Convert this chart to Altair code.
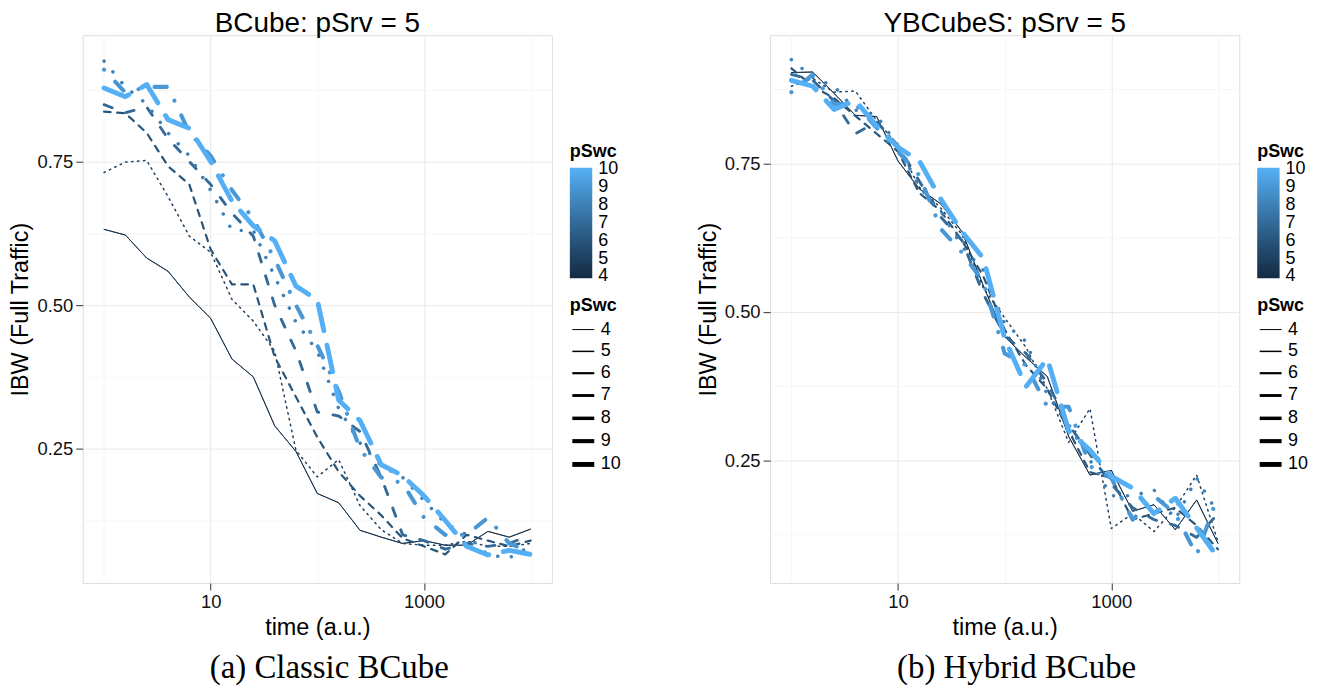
import altair as alt
import pandas as pd

# ---------------- data ----------------
TIME = [1, 1.585, 2.512, 3.981, 6.31, 10, 15.85, 25.12, 39.81, 63.1, 100,
        158.5, 251.2, 398.1, 631, 1000, 1585, 2512, 3981, 6310, 10000]
PSWC = [4, 5, 6, 7, 8, 9, 10]

BCUBE = {
    4: [0.632, 0.622, 0.582, 0.559, 0.514, 0.477, 0.406, 0.375, 0.290, 0.245, 0.172,
        0.156, 0.108, 0.096, 0.085, 0.090, 0.082, 0.082, 0.106, 0.096, 0.110],
    5: [0.731, 0.749, 0.752, 0.689, 0.620, 0.592, 0.510, 0.472, 0.420, 0.247, 0.201,
        0.231, 0.151, 0.109, 0.085, 0.082, 0.082, 0.089, 0.080, 0.080, 0.085],
    6: [0.837, 0.834, 0.800, 0.742, 0.710, 0.597, 0.536, 0.536, 0.410, 0.340, 0.270,
        0.210, 0.168, 0.134, 0.094, 0.080, 0.066, 0.100, 0.090, 0.080, 0.090],
    7: [0.849, 0.835, 0.845, 0.790, 0.750, 0.710, 0.660, 0.620, 0.500, 0.420, 0.314,
        0.307, 0.280, 0.200, 0.100, 0.090, 0.075, 0.085, 0.080, 0.085, 0.100],
    8: [0.925, 0.880, 0.850, 0.800, 0.760, 0.700, 0.630, 0.630, 0.550, 0.470, 0.420,
        0.320, 0.260, 0.220, 0.200, 0.160, 0.120, 0.100, 0.065, 0.060, 0.080],
    9: [0.910, 0.870, 0.880, 0.880, 0.800, 0.760, 0.700, 0.650, 0.580, 0.500, 0.430,
        0.350, 0.250, 0.200, 0.190, 0.130, 0.100, 0.100, 0.130, 0.085, 0.070],
    10: [0.878, 0.863, 0.884, 0.823, 0.808, 0.750, 0.681, 0.638, 0.612, 0.533, 0.509,
         0.335, 0.299, 0.222, 0.203, 0.168, 0.125, 0.080, 0.065, 0.073, 0.066],
}

YBCUBES = {
    4: [0.903, 0.904, 0.868, 0.831, 0.829, 0.754, 0.707, 0.682, 0.635, 0.544, 0.458,
        0.423, 0.391, 0.290, 0.225, 0.233, 0.164, 0.175, 0.133, 0.183, 0.110],
    5: [0.880, 0.893, 0.870, 0.872, 0.822, 0.780, 0.710, 0.675, 0.630, 0.540, 0.490,
        0.440, 0.370, 0.280, 0.337, 0.135, 0.160, 0.130, 0.170, 0.225, 0.113],
    6: [0.910, 0.880, 0.860, 0.830, 0.800, 0.770, 0.700, 0.670, 0.620, 0.560, 0.470,
        0.410, 0.370, 0.300, 0.230, 0.220, 0.150, 0.160, 0.170, 0.140, 0.100],
    7: [0.900, 0.890, 0.855, 0.800, 0.820, 0.780, 0.720, 0.660, 0.620, 0.530, 0.460,
        0.430, 0.380, 0.310, 0.260, 0.210, 0.170, 0.150, 0.140, 0.120, 0.160],
    8: [0.925, 0.895, 0.880, 0.840, 0.830, 0.780, 0.710, 0.670, 0.610, 0.570, 0.480,
        0.450, 0.360, 0.310, 0.250, 0.190, 0.190, 0.200, 0.150, 0.220, 0.160],
    9: [0.870, 0.900, 0.850, 0.850, 0.810, 0.770, 0.730, 0.640, 0.600, 0.550, 0.430,
        0.410, 0.340, 0.340, 0.240, 0.220, 0.150, 0.190, 0.160, 0.090, 0.190],
    10: [0.890, 0.880, 0.841, 0.856, 0.813, 0.777, 0.754, 0.690, 0.635, 0.590, 0.455,
         0.374, 0.421, 0.300, 0.267, 0.223, 0.203, 0.160, 0.186, 0.136, 0.086],
}

X_MAJOR = [10, 1000]
X_MINOR = [1, 100, 10000]
Y_MAJOR = [0.25, 0.5, 0.75]
Y_MINOR = [0.125, 0.375, 0.625, 0.875]

TITLES = ["BCube: pSrv = 5", "YBCubeS: pSrv = 5"]
CAPTIONS = ["(a) Classic BCube", "(b) Hybrid BCube"]

# ---------------- styling ----------------
SANS = "Liberation Sans"
SERIF = "Liberation Serif"
WIDTHS = [1.0, 1.5, 2.2, 2.9, 3.5, 4.1, 4.9]
DASHES = [[1, 0], [1.5, 4.5], [6.6, 6.6], [8.7, 14.5], [0.01, 14.0],
          [0.01, 16.4, 12.3, 16.4], [27.1, 14.9]]
PW, PH = 471, 550
XDOM = [10 ** -0.2, 10 ** 4.2]
CDOM = [3.9, 10.1]   # colour bar slightly padded so the end labels sit centred


def long_df(d):
    return pd.DataFrame(
        [{"time": t, "ibw": v, "pSwc": p, "dash": f"d{p}"}
         for p in PSWC for t, v in zip(TIME, d[p])]
    )


def test_expr(vals):
    return "indexof([" + ",".join(str(v) for v in vals) + "], datum.value) >= 0"


def axis(vals_major, vals_minor, fmt, title):
    t = test_expr(vals_major)
    return alt.Axis(
        values=sorted(vals_major + vals_minor),
        labelExpr=f"{t} ? format(datum.value, '{fmt}') : ''",
        gridColor={"condition": {"test": t, "value": "#E8E8E8"}, "value": "#F6F6F6"},
        gridWidth=1,
        tickOpacity={"condition": {"test": t, "value": 1}, "value": 0},
        tickColor="#333333", tickSize=7, tickWidth=1,
        domain=False, labelFont=SANS, labelFontSize=18.5, labelColor="#111111",
        labelPadding=3, titleFont=SANS, titleFontSize=23.5, titleFontWeight="normal",
        titleColor="#000000", titlePadding=4, title=title, labelOverlap=False,
    )


def panel(d, title, ydom, caption):
    df = long_df(d)
    ch = alt.Chart(df).mark_line(strokeCap="round", strokeJoin="round", clip=True).encode(
        x=alt.X("time:Q", scale=alt.Scale(type="log", domain=XDOM, nice=False),
                axis=axis(X_MAJOR, X_MINOR, "d", "time (a.u.)")),
        y=alt.Y("ibw:Q", scale=alt.Scale(domain=ydom, nice=False, zero=False),
                axis=axis(Y_MAJOR, Y_MINOR, ".2f", "IBW (Full Traffic)")),
        color=alt.Color(
            "pSwc:Q",
            scale=alt.Scale(domain=CDOM, range=["#132B43", "#56B1F7"], interpolate="lab"),
            legend=alt.Legend(
                title="pSwc", orient="none", legendX=489, legendY=108, direction="vertical",
                gradientLength=111, gradientThickness=22.5, values=PSWC,
                titleFont=SANS, titleFontSize=18, titleFontWeight="bold", titleColor="#000",
                titlePadding=7, labelFont=SANS, labelFontSize=18, labelColor="#000",
                labelBaseline="middle", labelOffset=6,
                labelOverlap=False, padding=0, gradientStrokeWidth=0,
            ),
        ),
        strokeWidth=alt.StrokeWidth(
            "pSwc:O",
            scale=alt.Scale(type="ordinal", domain=PSWC, range=WIDTHS),
            legend=alt.Legend(
                title="pSwc", orient="none", legendX=489, legendY=263,
                symbolType="stroke", symbolSize=484, symbolStrokeColor="#000000",
                titleFont=SANS, titleFontSize=18, titleFontWeight="bold", titleColor="#000",
                titlePadding=3, labelFont=SANS, labelFontSize=18, labelColor="#000",
                rowPadding=0.4, labelOffset=4, padding=0,
            ),
        ),
        strokeDash=alt.StrokeDash(
            "dash:N",
            scale=alt.Scale(domain=[f"d{p}" for p in PSWC], range=DASHES),
            legend=None,
        ),
        detail="pSwc:N",
    ).properties(
        width=PW, height=PH,
        title=alt.Title(title, font=SANS, fontSize=28, fontWeight="normal", color="#000",
                        anchor="middle", offset=-3),
    )
    return alt.hconcat(ch).properties(
        title=alt.Title(caption, orient="bottom", font=SERIF, fontSize=33,
                        fontWeight="normal", color="#000", anchor="middle", dx=14, offset=13)
    ).resolve_scale(color="independent", strokeWidth="independent", strokeDash="independent")


left = panel(BCUBE, TITLES[0], [0.016, 0.970], CAPTIONS[0])
right = panel(YBCUBES, TITLES[1], [0.043, 0.966], CAPTIONS[1])

chart = alt.hconcat(left, right, spacing=73).resolve_scale(
    color="independent", strokeWidth="independent", strokeDash="independent",
    x="independent", y="independent",
).resolve_legend(color="independent", strokeWidth="independent", strokeDash="independent"
).configure_view(stroke="#7F7F7F", strokeWidth=1).configure(
    padding={"left": 0, "top": 0, "right": 0, "bottom": 0}, background="white"
)

chart.save("out.html", embed_options={"renderer": "svg", "actions": False})
